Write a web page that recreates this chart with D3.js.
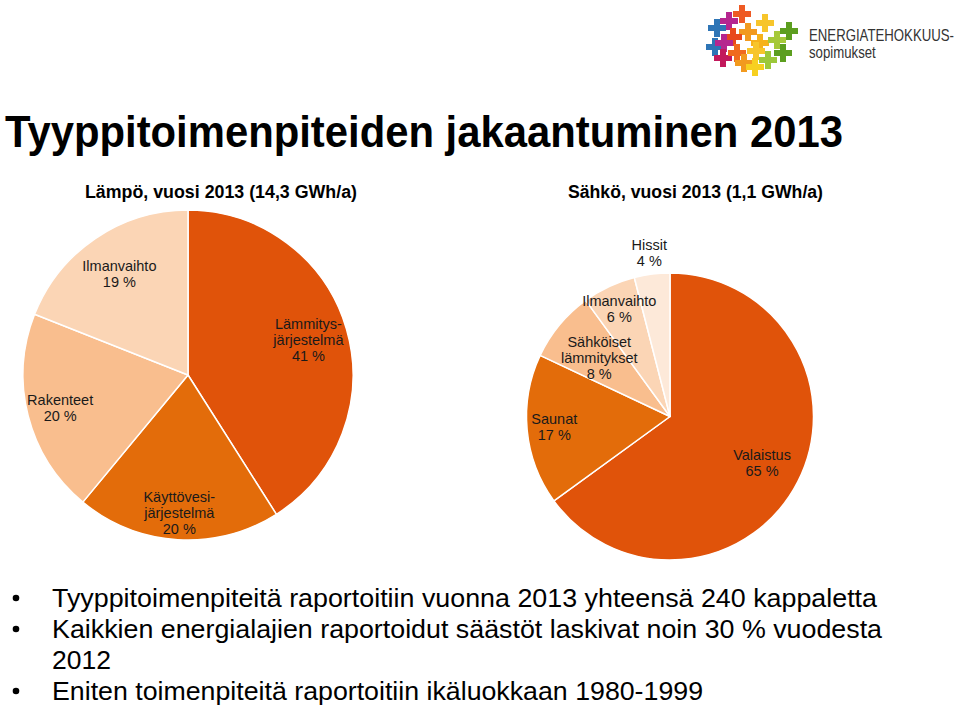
<!DOCTYPE html>
<html><head><meta charset="utf-8">
<script src="https://cdn.jsdelivr.net/npm/d3@7"></script>
<style>html,body{margin:0;padding:0;background:#fff;}svg{display:block;}</style>
</head><body>
<script>
// ---- data ----
const titleText = "Tyyppitoimenpiteiden jakaantuminen 2013";
const leftTitle = "Lämpö, vuosi 2013 (14,3 GWh/a)";
const rightTitle = "Sähkö, vuosi 2013 (1,1 GWh/a)";
const leftCategories = ["Lämmitys-\njärjestelmä", "Käyttövesi-\njärjestelmä", "Rakenteet", "Ilmanvaihto"];
const leftValues = [41, 20, 20, 19];
const rightCategories = ["Valaistus", "Saunat", "Sähköiset\nlämmitykset", "Ilmanvaihto", "Hissit"];
const rightValues = [65, 17, 8, 6, 4];
const bullets = [
  ["Tyyppitoimenpiteitä raportoitiin vuonna 2013 yhteensä 240 kappaletta"],
  ["Kaikkien energialajien raportoidut säästöt laskivat noin 30 % vuodesta", "2012"],
  ["Eniten toimenpiteitä raportoitiin ikäluokkaan 1980-1999"]
];
const logoLines = ["ENERGIATEHOKKUUS-", "sopimukset"];

// ---- layout / style ----
const W = 960, H = 711;
const leftColors = ["#E0530A", "#E36C0A", "#F9BE8E", "#FBD5B5"];
const rightColors = ["#E0530A", "#E36C0A", "#F9BE8E", "#FBD5B5", "#FDE9D9"];
const leftLabelK = [0.76, 0.84, 0.80, 0.74];
const rightLabelK = [0.72, 0.81, 0.64, 0.83, 1.15];
const FONT = "Liberation Sans, Arial, Helvetica, sans-serif";

const svg = d3.select("body").append("svg").attr("width", W).attr("height", H);

// Title
svg.append("text").attr("x", 5).attr("y", 147)
  .attr("font-family", FONT).attr("font-weight", "bold").attr("font-size", 44)
  .attr("textLength", 838).attr("lengthAdjust", "spacingAndGlyphs")
  .attr("fill", "#000").text(titleText);

svg.append("text").attr("x", 85).attr("y", 198)
  .attr("font-family", FONT).attr("font-weight", "bold").attr("font-size", 17.5)
  .attr("textLength", 272).attr("lengthAdjust", "spacingAndGlyphs")
  .attr("fill", "#000").text(leftTitle);
svg.append("text").attr("x", 568).attr("y", 198)
  .attr("font-family", FONT).attr("font-weight", "bold").attr("font-size", 17.5)
  .attr("textLength", 255).attr("lengthAdjust", "spacingAndGlyphs")
  .attr("fill", "#000").text(rightTitle);

function drawPie(cx, cy, r, cats, vals, colors, labelK) {
  const data = cats.map((c, i) => ({cat: c, value: vals[i], i}));
  const pie = d3.pie().sort(null).value(d => d.value);
  const arcs = pie(data);
  const arc = d3.arc().innerRadius(0).outerRadius(r);
  const g = svg.append("g").attr("transform", `translate(${cx},${cy})`);
  g.selectAll("path").data(arcs).join("path")
    .attr("d", arc)
    .attr("fill", d => colors[d.data.i])
    .attr("stroke", "#fff").attr("stroke-width", 1.5).attr("stroke-linejoin", "round");
  arcs.forEach(a => {
    const k = labelK[a.data.i];
    const c = d3.arc().innerRadius(r * k).outerRadius(r * k).centroid(a);
    const lines = a.data.cat.split("\n").concat([a.data.value + " %"]);
    const lh = 16;
    const t = g.append("text").attr("font-family", FONT).attr("font-size", 14.5)
      .attr("fill", "#1a1a1a").attr("text-anchor", "middle");
    lines.forEach((ln, j) => {
      t.append("tspan").attr("x", c[0])
        .attr("y", c[1] - (lines.length - 1) * lh / 2 + j * lh + 5)
        .text(ln);
    });
  });
}

drawPie(188, 375, 165, leftCategories, leftValues, leftColors, leftLabelK);
drawPie(670, 416.5, 143.5, rightCategories, rightValues, rightColors, rightLabelK);

// Bullets
const bulletWidths = [[825], [830, 59], [651]];
let y = 607;
bullets.forEach((b, bi) => {
  svg.append("circle").attr("cx", 16).attr("cy", y - 9).attr("r", 3.3).attr("fill", "#000");
  b.forEach((ln, li) => {
    svg.append("text").attr("x", 52).attr("y", y)
      .attr("font-family", FONT).attr("font-size", 26)
      .attr("textLength", bulletWidths[bi][li]).attr("lengthAdjust", "spacingAndGlyphs")
      .attr("fill", "#000").text(ln);
    y += 31;
  });
});

// Logo (decorative crosses)
const crosses = [
  [717, 28, "#2E75B6"], [729, 21, "#B5268F"], [742, 14, "#EE5A24"], [765, 23, "#F7C52B"],
  [789, 31, "#5C9E1F"], [748, 32, "#F29A1F"], [733, 37, "#E8491D"], [715, 47, "#2E75B6"],
  [724, 43, "#B5268F"], [760, 43, "#F6B21B"], [777, 40, "#A6C93A"], [723, 58, "#C2185B"],
  [737, 53, "#F06A1E"], [744, 63, "#F29A1F"], [755, 67, "#F7D020"], [783, 53, "#5C9E1F"],
  [768, 60, "#9CC83A"], [756, 51, "#F7C52B"]
];
const lg = svg.append("g");
crosses.forEach(([x, yy, col]) => {
  lg.append("rect").attr("x", x - 9).attr("y", yy - 3).attr("width", 18).attr("height", 6).attr("fill", col);
  lg.append("rect").attr("x", x - 3).attr("y", yy - 9).attr("width", 6).attr("height", 18).attr("fill", col);
});
svg.append("text").attr("transform", "translate(809,41) scale(1,1.25)")
  .attr("font-family", FONT).attr("font-size", 13.2)
  .attr("fill", "#333").text(logoLines[0]);
svg.append("text").attr("transform", "translate(809,58) scale(1,1.25)")
  .attr("font-family", FONT).attr("font-size", 13.2)
  .attr("fill", "#333").text(logoLines[1]);
</script>
</body></html>
